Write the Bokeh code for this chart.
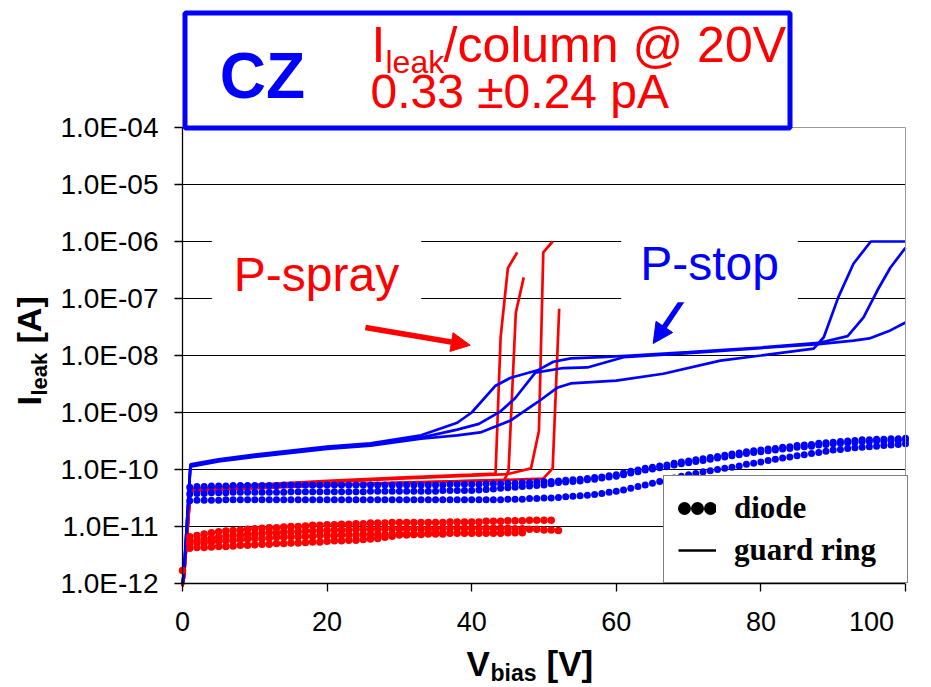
import math
from bokeh.plotting import figure
from bokeh.models import (FixedTicker, CustomJSTickFormatter, Label, BoxAnnotation, Grid,
                          Arrow, NormalHead, Legend, LegendItem, ColumnDataSource,
                          LogAxis, LinearAxis)
from bokeh.embed import file_html
from bokeh.resources import INLINE

# ---------------- data (log10 of leakage current in A) ----------------
x_ticks = [0, 20, 40, 60, 80, 100]
y_decades = [-12, -11, -10, -9, -8, -7, -6, -5, -4]

# P-spray guard-ring curves (red lines)
rg1_v = [0.0, 0.2, 1.1, 5, 10, 20, 30, 40, 43.3, 44.0, 45.0, 46.3]
rg1_l = [-12.05, -11.9, -10.34, -10.31, -10.27, -10.20, -10.14, -10.09, -10.07, -7.68, -6.47, -6.19]
rg2_v = [0.0, 0.2, 1.1, 10, 20, 30, 40, 44.5, 45.1, 46.1, 47.2]
rg2_l = [-12.05, -11.9, -10.37, -10.32, -10.27, -10.23, -10.20, -10.19, -10.02, -7.25, -6.63]
rg3_v = [0.0, 0.2, 1.1, 10, 20, 30, 40, 45, 48.2, 49.3, 49.9, 51.2]
rg3_l = [-12.05, -11.9, -10.34, -10.30, -10.22, -10.16, -10.11, -10.08, -9.98, -9.32, -6.19, -6.0]
rg4_v = [0.0, 0.2, 1.1, 10, 20, 30, 40, 49.9, 51.2, 52.1]
rg4_l = [-12.05, -11.9, -10.38, -10.33, -10.28, -10.24, -10.20, -10.16, -9.98, -7.18]

# P-stop guard-ring curves (blue lines)
bg1_v = [0, 0.2, 1.1, 5, 10, 20, 26, 33, 38, 40, 43.3, 45.4, 49.1, 51.3, 53.7, 58, 62, 70, 80, 88, 92, 94.2, 96.1, 97.9, 100]
bg1_l = [-12.0, -11.8, -9.91, -9.82, -9.74, -9.60, -9.54, -9.40, -9.18, -9.0, -8.53, -8.39, -8.26, -8.11, -8.05, -8.03, -8.0, -7.94, -7.86, -7.78, -7.66, -7.33, -6.86, -6.46, -6.11]
bg2_v = [0, 0.2, 1.1, 5, 10, 20, 26, 33, 38, 41, 44, 46, 48.8, 52.7, 56, 61, 70, 80, 88, 92.8, 95, 97.9, 100]
bg2_l = [-12.0, -11.8, -9.93, -9.84, -9.76, -9.62, -9.56, -9.44, -9.30, -9.20, -8.98, -8.75, -8.30, -8.22, -8.21, -8.03, -7.96, -7.87, -7.80, -7.74, -7.70, -7.56, -7.42]
bg3_v = [0, 0.2, 1.1, 5, 10, 20, 26, 33, 38, 41.2, 45.4, 49.1, 51.9, 53.7, 60, 66.5, 74.4, 80, 87.3, 88.7, 90.7, 92.8, 95.2, 100]
bg3_l = [-12.0, -11.8, -9.95, -9.86, -9.78, -9.64, -9.58, -9.46, -9.40, -9.35, -9.14, -8.82, -8.56, -8.49, -8.44, -8.32, -8.09, -8.0, -7.88, -7.68, -6.98, -6.39, -6.0, -6.0]

# P-stop diodes (blue dots), V = 1..100 V
bd_v = list(range(1, 101))
bd1_l = [-10.31, -10.30, -10.30, -10.29, -10.29, -10.29, -10.28, -10.28, -10.28, -10.28,
         -10.28, -10.28, -10.28, -10.27, -10.27, -10.27, -10.27, -10.27, -10.27, -10.27,
         -10.27, -10.27, -10.27, -10.27, -10.27, -10.27, -10.27, -10.27, -10.27, -10.27,
         -10.27, -10.27, -10.27, -10.27, -10.27, -10.27, -10.26, -10.26, -10.26, -10.26,
         -10.26, -10.25, -10.25, -10.25, -10.24, -10.24, -10.23, -10.23, -10.22, -10.21,
         -10.21, -10.20, -10.19, -10.18, -10.17, -10.16, -10.14, -10.13, -10.11, -10.09,
         -10.06, -10.03, -10.01, -9.98, -9.96, -9.94, -9.92, -9.89, -9.87, -9.85,
         -9.83, -9.81, -9.79, -9.77, -9.75, -9.73, -9.71, -9.69, -9.67, -9.66,
         -9.64, -9.63, -9.61, -9.60, -9.58, -9.57, -9.56, -9.54, -9.53, -9.52,
         -9.51, -9.50, -9.49, -9.48, -9.48, -9.47, -9.47, -9.46, -9.46, -9.45]
bd2_l = [-10.43, -10.42, -10.42, -10.41, -10.41, -10.41, -10.40, -10.40, -10.40, -10.40,
         -10.40, -10.40, -10.40, -10.40, -10.39, -10.39, -10.39, -10.39, -10.39, -10.39,
         -10.39, -10.39, -10.39, -10.39, -10.39, -10.38, -10.38, -10.38, -10.38, -10.38,
         -10.38, -10.38, -10.38, -10.38, -10.38, -10.37, -10.37, -10.37, -10.37, -10.37,
         -10.36, -10.35, -10.34, -10.33, -10.32, -10.31, -10.30, -10.29, -10.28, -10.27,
         -10.25, -10.23, -10.22, -10.21, -10.20, -10.18, -10.17, -10.15, -10.13, -10.12,
         -10.09, -10.06, -10.04, -10.01, -9.99, -9.97, -9.95, -9.92, -9.90, -9.88,
         -9.86, -9.84, -9.82, -9.80, -9.78, -9.76, -9.74, -9.72, -9.70, -9.69,
         -9.67, -9.66, -9.64, -9.63, -9.61, -9.60, -9.59, -9.57, -9.56, -9.55,
         -9.54, -9.53, -9.52, -9.51, -9.51, -9.50, -9.50, -9.49, -9.49, -9.48]
bd3_l = [-10.55, -10.54, -10.54, -10.54, -10.54, -10.53, -10.53, -10.53, -10.53, -10.53,
         -10.53, -10.53, -10.53, -10.53, -10.53, -10.53, -10.53, -10.53, -10.53, -10.53,
         -10.53, -10.53, -10.53, -10.53, -10.53, -10.53, -10.53, -10.53, -10.53, -10.53,
         -10.53, -10.53, -10.53, -10.53, -10.53, -10.53, -10.53, -10.53, -10.53, -10.53,
         -10.53, -10.53, -10.53, -10.53, -10.52, -10.52, -10.52, -10.51, -10.51, -10.50,
         -10.50, -10.49, -10.48, -10.47, -10.46, -10.45, -10.44, -10.42, -10.40, -10.38,
         -10.36, -10.33, -10.30, -10.27, -10.24, -10.21, -10.18, -10.15, -10.12, -10.09,
         -10.07, -10.04, -10.02, -10.00, -9.98, -9.96, -9.94, -9.91, -9.89, -9.87,
         -9.84, -9.82, -9.80, -9.78, -9.76, -9.74, -9.72, -9.70, -9.68, -9.66,
         -9.65, -9.63, -9.62, -9.61, -9.60, -9.59, -9.58, -9.57, -9.56, -9.55]

# P-spray diodes (red dots)
rd1_v = list(range(0, 52))
rd1_l = [-11.77,
         -11.18, -11.16, -11.13, -11.11, -11.09, -11.08, -11.07, -11.06, -11.05, -11.04,
         -11.03, -11.02, -11.02, -11.01, -11.00, -11.00, -10.99, -10.98, -10.98, -10.97,
         -10.97, -10.96, -10.96, -10.95, -10.95, -10.94, -10.94, -10.94, -10.93, -10.93,
         -10.93, -10.93, -10.93, -10.93, -10.93, -10.93, -10.92, -10.92, -10.92, -10.92,
         -10.92, -10.91, -10.91, -10.91, -10.90, -10.90, -10.90, -10.89, -10.89, -10.89, -10.89]
rd2_v = list(range(1, 53))
rd2_l = [-11.26, -11.24, -11.22, -11.20, -11.19, -11.17, -11.16, -11.15, -11.14, -11.13,
         -11.12, -11.11, -11.11, -11.10, -11.09, -11.09, -11.08, -11.08, -11.07, -11.07,
         -11.06, -11.06, -11.06, -11.05, -11.05, -11.05, -11.05, -11.04, -11.04, -11.04,
         -11.04, -11.04, -11.04, -11.04, -11.04, -11.03, -11.03, -11.03, -11.03, -11.03,
         -11.03, -11.03, -11.03, -11.03, -11.03, -11.04, -11.04, -11.05, -11.05, -11.06, -11.06, -11.07]
rd3_v = list(range(1, 48))
rd3_l = [-11.30, -11.29, -11.28, -11.27, -11.26, -11.25, -11.24, -11.23, -11.22, -11.21,
         -11.21, -11.20, -11.19, -11.19, -11.18, -11.18, -11.17, -11.17, -11.16, -11.16,
         -11.16, -11.15, -11.15, -11.15, -11.14, -11.14, -11.14, -11.14, -11.13, -11.13,
         -11.13, -11.13, -11.13, -11.12, -11.12, -11.12, -11.12, -11.12, -11.12, -11.12,
         -11.12, -11.12, -11.12, -11.12, -11.11, -11.11, -11.11]
rd4_v = list(range(1, 37))
rd4_l = [-11.38, -11.37, -11.37, -11.36, -11.35, -11.35, -11.34, -11.33, -11.33, -11.32,
         -11.31, -11.31, -11.30, -11.30, -11.29, -11.29, -11.28, -11.27, -11.27, -11.26,
         -11.25, -11.25, -11.24, -11.24, -11.23, -11.22, -11.21, -11.19, -11.17, -11.15,
         -11.15, -11.14, -11.14, -11.13, -11.13, -11.13]

# annotation anchor points (V, log10 I)
spray_arrow = (25.3, -7.51, 39.8, -7.82)
stop_arrow = (69.3, -7.00, 65.1, -7.79)

RED = "#FF0000"
BLUE = "#0000FF"
FB = "Liberation Sans"
W, H = 931, 687
# plot area in canvas pixels: x 0..100 V -> 182..905 px, 1e-12..1e-4 A -> 583..127 px
PX_PER_V = (905 - 182) / 100.0
PX_PER_DEC = (583 - 127) / 8.0


def curr(logs):
    return [10.0 ** v for v in logs]


x_lo = -182 / PX_PER_V
x_hi = 100 + (W - 905) / PX_PER_V
y_lo = 10 ** (-12 - (H - 583) / PX_PER_DEC)
y_hi = 10 ** (-12 + 583 / PX_PER_DEC)

p = figure(width=W, height=H, y_axis_type="log", x_range=(x_lo, x_hi), y_range=(y_lo, y_hi),
           output_backend="svg", toolbar_location=None, min_border=0)
p.title.visible = False
p.background_fill_color = "white"
p.border_fill_color = "white"
p.outline_line_color = None

# axes, pinned to the data box
p.yaxis.fixed_location = 0
p.yaxis.bounds = (1e-12, 1e-4)
p.xaxis.fixed_location = 1e-12
p.xaxis.bounds = (0, 100)
p.yaxis.ticker = FixedTicker(ticks=[10.0 ** d for d in y_decades])
p.yaxis.formatter = CustomJSTickFormatter(code="""
const e = Math.round(Math.log10(tick));
const a = Math.abs(e);
return "1.0E" + (e < 0 ? "-" : "+") + (a < 10 ? "0" : "") + a;
""")
p.xaxis.ticker = FixedTicker(ticks=x_ticks)
p.xaxis.major_label_overrides = {100: "100\u00a0\u00a0\u00a0\u00a0\u00a0"}
for ax in (p.xaxis, p.yaxis):
    ax.minor_tick_line_color = None
    ax.major_tick_in = 0
    ax.major_tick_out = 8
    ax.axis_line_color = "black"
    ax.axis_line_width = 1.3
    ax.major_tick_line_color = "black"
    ax.major_tick_line_width = 1.3
    ax.major_label_text_font = FB
    ax.major_label_text_color = "black"
p.yaxis.major_label_text_font_size = "28px"
p.xaxis.major_label_text_font_size = "27px"
p.yaxis.major_label_standoff = 16
p.xaxis.major_label_standoff = 15

# plot-area border (top and right, grey)
top_border = LinearAxis(fixed_location=1e-4, bounds=(0, 100), ticker=FixedTicker(ticks=[]),
                        axis_line_color="#9a9a9a", axis_line_width=1,
                        major_tick_line_color=None, minor_tick_line_color=None,
                        major_label_text_font_size="0px")
p.add_layout(top_border, "above")
right_border = LogAxis(fixed_location=100, bounds=(1e-12, 1e-4), ticker=FixedTicker(ticks=[]),
                       axis_line_color="#9a9a9a", axis_line_width=1,
                       major_tick_line_color=None, minor_tick_line_color=None,
                       major_label_text_font_size="0px")
p.add_layout(right_border, "right")

# horizontal grid lines at each decade
p.xgrid.visible = False
grid_ticks = [10.0 ** d for d in y_decades[1:-1]]
if "cross_bounds" in Grid.properties():
    p.ygrid.ticker = FixedTicker(ticks=grid_ticks)
    p.ygrid.cross_bounds = (0, 100)
    p.ygrid.grid_line_color = "black"
    p.ygrid.grid_line_width = 1.2
else:
    p.ygrid.visible = False
    gax = LogAxis(fixed_location=100, ticker=FixedTicker(ticks=grid_ticks),
                  major_tick_in=int(round(100 * PX_PER_V)), major_tick_out=0,
                  major_tick_line_color="black", major_tick_line_width=1.2,
                  axis_line_color=None, minor_tick_line_color=None,
                  major_label_text_font_size="0px", level="underlay")
    p.add_layout(gax, "right")

# guard ring lines
for v, l in ((rg1_v, rg1_l), (rg2_v, rg2_l), (rg3_v, rg3_l), (rg4_v, rg4_l)):
    p.line(v, curr(l), line_color=RED, line_width=2.7)
for v, l in ((bg1_v, bg1_l), (bg2_v, bg2_l), (bg3_v, bg3_l)):
    p.line(v, curr(l), line_color=BLUE, line_width=2.7)

# diode dots
for v, l in ((rd1_v, rd1_l), (rd2_v, rd2_l), (rd3_v, rd3_l), (rd4_v, rd4_l)):
    p.scatter(v, curr(l), size=7.5, fill_color=RED, line_color=None)
for l in (bd1_l, bd2_l, bd3_l):
    p.scatter(bd_v, curr(l), size=7, fill_color=BLUE, line_color=None)

# arrows
p.add_layout(Arrow(end=NormalHead(size=19, fill_color=RED, line_color=RED),
                   x_start=spray_arrow[0], y_start=10 ** spray_arrow[1],
                   x_end=spray_arrow[2], y_end=10 ** spray_arrow[3],
                   line_color=RED, line_width=5.5))
p.add_layout(Arrow(end=NormalHead(size=20, fill_color=BLUE, line_color=BLUE),
                   x_start=stop_arrow[0], y_start=10 ** stop_arrow[1],
                   x_end=stop_arrow[2], y_end=10 ** stop_arrow[3],
                   line_color=BLUE, line_width=5.5))

# Bokeh centres a label's text box on its anchor; the alphabetic baseline lies
# about 0.35 em below that centre, so shift anchors to place baselines exactly.
BASE = 0.35


def txt(cx, cy, text, size, color="black", bold=False, align="left",
        angle=0.0, level="annotation", **kw):
    """Text placed by its baseline start in canvas pixels (top-left origin)."""
    if angle:
        cx = cx - BASE * size
    else:
        cy = cy - BASE * size
    p.add_layout(Label(x=cx, y=H - cy, x_units="screen", y_units="screen", text=text,
                       text_font=FB, text_font_size=f"{size}px", text_color=color,
                       text_font_style="bold" if bold else "normal", text_align=align,
                       text_baseline="alphabetic", angle=angle, level=level, **kw))


# P-spray / P-stop labels on white patches
txt(316, 291, "P-spray", 48, RED, align="center", background_fill_color="white", padding=(22, 10))
txt(709, 280, "P-stop", 48, BLUE, align="center", background_fill_color="white", padding=(19, 12))

# title box
p.add_layout(BoxAnnotation(left=184.5, right=789.5, top=H - 12.5, bottom=H - 127.5,
                           left_units="screen", right_units="screen", top_units="screen",
                           bottom_units="screen", fill_color="white", fill_alpha=1,
                           line_color=BLUE, line_alpha=1, line_width=5, level="overlay"))
txt(262, 98, "CZ", 64, BLUE, bold=True, align="center", level="overlay")
txt(371, 62, "I", 50, RED, level="overlay")
txt(385, 73, "leak", 32, RED, level="overlay")
txt(443, 62, "/column @ 20V", 50, RED, level="overlay")
txt(370, 108, "0.33 \u00b10.24 pA", 48, RED, level="overlay")

# axis titles with subscripts
txt(466, 675, "V", 35, bold=True)
txt(490, 681, "bias", 23, bold=True)
txt(546, 675, "[V]", 35, bold=True)
txt(40, 405, "I", 34, bold=True, angle=math.pi / 2)
txt(47, 395, "leak", 22, bold=True, angle=math.pi / 2)
txt(40, 343, "[A]", 34, bold=True, angle=math.pi / 2)

# legend (black key glyphs, renderers carry no visible data)
nan = float("nan")
empty = ColumnDataSource(data=dict(x=[nan], y=[nan]))
r_dot = p.line("x", "y", source=empty, line_color="black", line_width=13, line_dash="0 13",
               line_dash_offset=-6, line_cap="round")
r_line = p.line("x", "y", source=empty, line_color="black", line_width=2.5)
legend = Legend(items=[LegendItem(label="diode", renderers=[r_dot]),
                       LegendItem(label="guard ring", renderers=[r_line])],
                location=(663, H - 583), orientation="vertical")
legend.label_text_font = "Liberation Serif"
legend.label_text_font_style = "bold"
legend.label_text_font_size = "31px"
legend.label_text_color = "black"
legend.padding = 14
legend.margin = 0
legend.spacing = 6
legend.glyph_width = 38
legend.glyph_height = 20
legend.label_height = 35
legend.label_width = 159
legend.label_standoff = 18
legend.border_line_color = "black"
legend.border_line_width = 1.5
legend.background_fill_color = "white"
legend.background_fill_alpha = 1
p.add_layout(legend)

open("out.html", "w").write(file_html(p, INLINE))
